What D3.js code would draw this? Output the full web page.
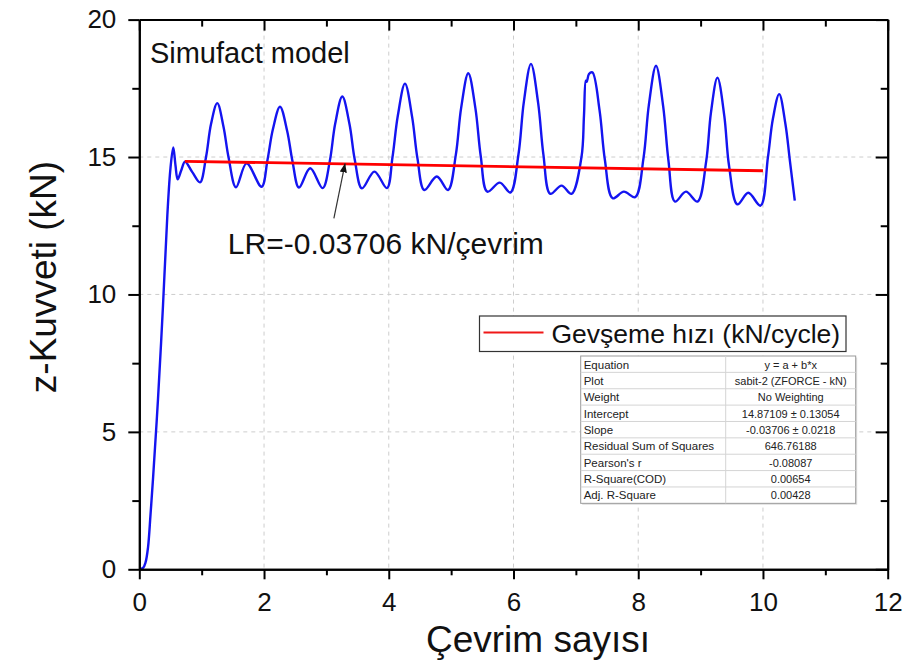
<!DOCTYPE html>
<html>
<head>
<meta charset="utf-8">
<script src="https://cdn.jsdelivr.net/npm/d3@7"></script>
<style>
  html, body { margin: 0; padding: 0; background: #fff; }
  svg { display: block; font-family: Arial, "Liberation Sans", sans-serif; }
</style>
</head>
<body>
<svg id="chart" width="919" height="669"></svg>
<script>
// ---------------- DATA ----------------
const cycleX = [
  0, 0.06, 0.1, 0.14, 0.18, 0.22, 0.3, 0.38, 0.45, 0.5, 0.545, 0.58, 0.615, 0.67, 0.733, 0.85, 0.973,
  1.07, 1.15, 1.25, 1.35, 1.43, 1.55, 1.72, 1.96,
  2.056, 2.141, 2.256, 2.371, 2.456, 2.56, 2.74, 2.94,
  3.055, 3.14, 3.255, 3.37, 3.455, 3.57, 3.77, 3.97,
  4.06, 4.145, 4.26, 4.375, 4.46, 4.57, 4.77, 4.95,
  5.075, 5.16, 5.275, 5.39, 5.475, 5.58, 5.78, 5.95,
  6.08, 6.165, 6.28, 6.395, 6.48, 6.59, 6.77, 6.93,
  7.09, 7.13, 7.16, 7.175, 7.21, 7.265, 7.38, 7.465, 7.59, 7.77, 7.95,
  8.085, 8.17, 8.285, 8.4, 8.485, 8.59, 8.765, 8.95,
  9.09, 9.165, 9.27, 9.38, 9.455, 9.59, 9.765, 9.96,
  10.08, 10.16, 10.26, 10.36, 10.43, 10.51
];
const zForce = [
  0, 0.05, 0.25, 0.8, 2.0, 3.3, 6.2, 9.6, 12.9, 14.6, 15.35, 14.7, 14.19, 14.5, 14.83, 14.45, 14.08,
  15.0, 16.2, 16.96, 16.1, 15.0, 13.9, 14.77, 13.92,
  14.9, 16.0, 16.83, 15.95, 14.85, 13.89, 14.59, 13.87,
  14.86, 16.2, 17.2, 16.2, 14.9, 13.86, 14.47, 13.87,
  15.0, 16.5, 17.67, 16.45, 14.95, 13.8, 14.29, 13.8,
  15.08, 16.78, 18.05, 16.76, 15.03, 13.74, 14.07, 13.71,
  15.1, 16.99, 18.39, 16.97, 15.08, 13.66, 13.96, 13.66,
  15.0, 16.5, 17.78, 17.74, 18.02, 18.08, 16.7, 14.9, 13.5, 13.74, 13.54,
  14.97, 16.89, 18.32, 16.84, 14.86, 13.38, 13.74, 13.38,
  14.85, 16.6, 17.89, 16.5, 14.7, 13.28, 13.7, 13.23,
  15.0, 16.4, 17.29, 16.2, 14.9, 13.41
];
const fitX = [0.73, 10.0];
const fitY = [14.844, 14.500];

const xTicks = [0, 2, 4, 6, 8, 10, 12];
const xMinorTicks = [1, 3, 5, 7, 9, 11];
const yTicks = [0, 5, 10, 15, 20];
const yMinorTicks = [2.5, 7.5, 12.5, 17.5];
const xGrid = [2, 4, 6, 8, 10];
const yGrid = [5, 10, 15];

const statLabels = ["Equation", "Plot", "Weight", "Intercept", "Slope",
  "Residual Sum of Squares", "Pearson's r", "R-Square(COD)", "Adj. R-Square"];
const statValues = ["y = a + b*x", "sabit-2 (ZFORCE - kN)", "No Weighting",
  "14.87109 \u00B1 0.13054", "-0.03706 \u00B1 0.0218", "646.76188",
  "-0.08087", "0.00654", "0.00428"];

const xTitle = "Çevrim sayısı";
const yTitle = "z-Kuvveti (kN)";
const chartNote = "Simufact model";
const lrText = "LR=-0.03706 kN/çevrim";
const legendText = "Gevşeme hızı (kN/cycle)";

// ---------------- LAYOUT ----------------
const W = 919, H = 669;
const margin = { left: 139.3, right: 31.3, top: 19.6, bottom: 99.7 };
const iw = W - margin.left - margin.right;
const ih = H - margin.top - margin.bottom;

const svg = d3.select("#chart");
const g = svg.append("g").attr("transform", `translate(${margin.left},${margin.top})`);

const x = d3.scaleLinear().domain([0, 12]).range([0, iw]);
const y = d3.scaleLinear().domain([0, 20]).range([ih, 0]);

// grid
g.append("g").selectAll("line").data(xGrid).join("line")
  .attr("x1", d => x(d)).attr("x2", d => x(d)).attr("y1", 0).attr("y2", ih)
  .attr("stroke", "#cdcdcd").attr("stroke-width", 1).attr("stroke-dasharray", "4,4");
g.append("g").selectAll("line").data(yGrid).join("line")
  .attr("y1", d => y(d)).attr("y2", d => y(d)).attr("x1", 0).attr("x2", iw)
  .attr("stroke", "#cdcdcd").attr("stroke-width", 1).attr("stroke-dasharray", "4,4");

// blue curve
const pts = cycleX.map((d, i) => [d, zForce[i]]);
g.append("path").datum(pts)
  .attr("fill", "none").attr("stroke", "#1414f0").attr("stroke-width", 2.4)
  .attr("stroke-linejoin", "round")
  .attr("d", d3.line().x(d => x(d[0])).y(d => y(d[1])).curve(d3.curveCatmullRom.alpha(0.5)));

// red fit line
const fitPts = fitX.map((d, i) => [d, fitY[i]]);
g.append("path").datum(fitPts)
  .attr("fill", "none").attr("stroke", "#ff0000").attr("stroke-width", 2.8)
  .attr("d", d3.line().x(d => x(d[0])).y(d => y(d[1])));

// axes
const fontTick = 26;
function styleAxis(sel) {
  sel.select(".domain").attr("stroke", "#000").attr("stroke-width", 2);
  sel.selectAll(".tick line").attr("stroke", "#000").attr("stroke-width", 2);
  sel.selectAll("text").attr("fill", "#111").style("font-size", fontTick + "px")
    .style("font-family", "Arial, 'Liberation Sans', sans-serif");
}
// bottom
g.append("g").attr("transform", `translate(0,${ih})`)
  .call(d3.axisBottom(x).tickValues(xTicks).tickFormat(d3.format("d")).tickSize(10).tickSizeOuter(0).tickPadding(13))
  .call(styleAxis);
g.append("g").attr("transform", `translate(0,${ih})`)
  .call(d3.axisBottom(x).tickValues(xMinorTicks).tickFormat("").tickSize(6).tickSizeOuter(0))
  .call(styleAxis);
// top (inward)
g.append("g")
  .call(d3.axisBottom(x).tickValues(xTicks).tickFormat("").tickSize(11).tickSizeOuter(0))
  .call(styleAxis);
g.append("g")
  .call(d3.axisBottom(x).tickValues(xMinorTicks).tickFormat("").tickSize(7).tickSizeOuter(0))
  .call(styleAxis);
// left
g.append("g")
  .call(d3.axisLeft(y).tickValues(yTicks).tickFormat(d3.format("d")).tickSize(11).tickSizeOuter(0).tickPadding(12))
  .call(styleAxis);
g.append("g")
  .call(d3.axisLeft(y).tickValues(yMinorTicks).tickFormat("").tickSize(7).tickSizeOuter(0))
  .call(styleAxis);
// right (inward)
g.append("g").attr("transform", `translate(${iw},0)`)
  .call(d3.axisLeft(y).tickValues(yTicks).tickFormat("").tickSize(12).tickSizeOuter(0))
  .call(styleAxis);
g.append("g").attr("transform", `translate(${iw},0)`)
  .call(d3.axisLeft(y).tickValues(yMinorTicks).tickFormat("").tickSize(7).tickSizeOuter(0))
  .call(styleAxis);

// axis titles
svg.append("text")
  .attr("x", 538).attr("y", 652)
  .attr("text-anchor", "middle").attr("fill", "#111")
  .style("font-size", "37px").text(xTitle);
svg.append("text")
  .attr("transform", `translate(56,277) rotate(-90)`)
  .attr("text-anchor", "middle").attr("fill", "#111")
  .style("font-size", "37px").text(yTitle);

// chart note
g.append("text")
  .attr("x", x(0.17)).attr("y", y(18.42))
  .attr("fill", "#111").style("font-size", "29px").text(chartNote);

// arrow annotation
const defs = svg.append("defs");
defs.append("marker").attr("id", "arrow")
  .attr("viewBox", "0 0 10 10").attr("refX", 10).attr("refY", 5)
  .attr("markerWidth", 9).attr("markerHeight", 9).attr("markerUnits", "userSpaceOnUse")
  .attr("orient", "auto")
  .append("path").attr("d", "M0,1 L10,5 L0,9 Z").attr("fill", "#111");
g.append("line")
  .attr("x1", x(3.12)).attr("y1", y(12.77))
  .attr("x2", x(3.30)).attr("y2", y(14.77))
  .attr("stroke", "#333").attr("stroke-width", 1.2)
  .attr("marker-end", "url(#arrow)");
g.append("text")
  .attr("x", x(1.42)).attr("y", y(11.47))
  .attr("fill", "#111").style("font-size", "30px").text(lrText);

// legend
const lg = svg.append("g").attr("transform", "translate(479.5,316)");
lg.append("rect").attr("width", 366.5).attr("height", 35.5)
  .attr("fill", "#fff").attr("stroke", "#333").attr("stroke-width", 1.2);
lg.append("line").attr("x1", 4).attr("x2", 64).attr("y1", 16.5).attr("y2", 16.5)
  .attr("stroke", "#f01818").attr("stroke-width", 2);
lg.append("text").attr("x", 72).attr("y", 27).attr("fill", "#111")
  .style("font-size", "26.5px").text(legendText);

// stats table
const tb = svg.append("g").attr("transform", "translate(580.7,356)");
const tW = 275, rowH = 16.37, colX = 145;
tb.append("rect").attr("x", 1.5).attr("y", 1.5).attr("width", tW).attr("height", rowH * statLabels.length)
  .attr("fill", "#e0e0e0");
tb.append("rect").attr("width", tW).attr("height", rowH * statLabels.length)
  .attr("fill", "#fff").attr("stroke", "#9a9a9a").attr("stroke-width", 1);
tb.selectAll("line.row").data(statLabels.slice(1)).join("line")
  .attr("class", "row")
  .attr("x1", 0).attr("x2", tW)
  .attr("y1", (d, i) => (i + 1) * rowH).attr("y2", (d, i) => (i + 1) * rowH)
  .attr("stroke", "#d4d4d4").attr("stroke-width", 1);
tb.append("line").attr("x1", colX).attr("x2", colX).attr("y1", 0).attr("y2", rowH * statLabels.length)
  .attr("stroke", "#d4d4d4").attr("stroke-width", 1);
tb.selectAll("text.lab").data(statLabels).join("text")
  .attr("class", "lab")
  .attr("x", 3).attr("y", (d, i) => i * rowH + 12.5)
  .attr("fill", "#222").style("font-size", "11.5px").text(d => d);
tb.selectAll("text.val").data(statValues).join("text")
  .attr("class", "val")
  .attr("x", colX + (tW - colX) / 2).attr("y", (d, i) => i * rowH + 12.5)
  .attr("text-anchor", "middle")
  .attr("fill", "#222").style("font-size", "11px").text(d => d);
</script>
</body>
</html>
